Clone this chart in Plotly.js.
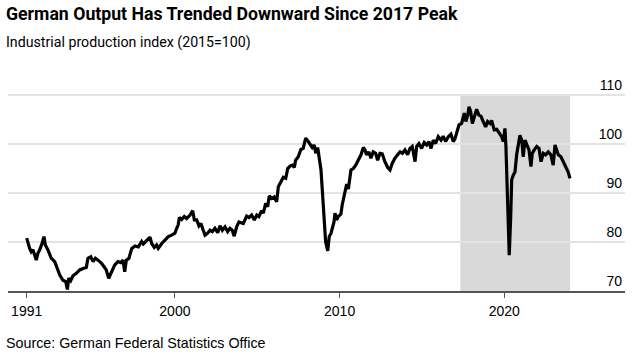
<!DOCTYPE html>
<html>
<head>
<meta charset="utf-8">
<script src="https://cdn.plot.ly/plotly-3.0.1.min.js"></script>
<style>html,body{margin:0;padding:0;background:#fff;}#chart{width:637px;height:357px;}</style>
</head>
<body>
<div id="chart"></div>
<script>
// Decimal years and index values (2015=100)
const years = [
1991.0,1991.1,1991.18,1991.28,1991.38,1991.49,1991.58,1991.69,1991.79,1991.93,
1992.05,1992.13,1992.29,1992.49,1992.70,1992.86,1993.00,1993.20,1993.37,1993.47,
1993.55,1993.67,1993.81,1994.01,1994.22,1994.42,1994.62,1994.72,1994.89,1995.03,
1995.17,1995.33,1995.53,1995.69,1995.83,1995.98,1996.14,1996.34,1996.54,1996.71,
1996.85,1996.95,1997.05,1997.21,1997.38,1997.58,1997.78,1997.98,1998.08,1998.29,
1998.49,1998.59,1998.75,1998.89,1998.99,1999.20,1999.40,1999.60,1999.80,2000.00,
2000.11,2000.20,2000.27,2000.41,2000.57,2000.71,2000.92,2001.08,2001.18,2001.32,
2001.46,2001.58,2001.72,2001.83,2001.99,2002.13,2002.27,2002.43,2002.60,2002.74,
2002.88,2003.04,2003.20,2003.34,2003.48,2003.60,2003.75,2003.89,2004.15,2004.36,
2004.50,2004.66,2004.82,2004.97,2005.10,2005.27,2005.37,2005.51,2005.63,2005.73,
2005.88,2006.03,2006.18,2006.28,2006.44,2006.58,2006.73,2006.85,2006.99,2007.13,
2007.25,2007.33,2007.49,2007.65,2007.79,2007.94,2008.06,2008.20,2008.34,2008.46,
2008.55,2008.67,2008.75,2008.87,2008.95,2009.01,2009.07,2009.15,2009.28,2009.37,
2009.48,2009.56,2009.66,2009.72,2009.82,2009.92,2010.08,2010.16,2010.28,2010.43,
2010.53,2010.69,2010.83,2010.98,2011.13,2011.30,2011.44,2011.54,2011.64,2011.78,
2011.90,2012.04,2012.19,2012.31,2012.45,2012.59,2012.75,2012.92,2013.06,2013.20,
2013.36,2013.53,2013.67,2013.81,2013.97,2014.13,2014.27,2014.41,2014.58,2014.68,
2014.82,2014.98,2015.14,2015.29,2015.43,2015.55,2015.69,2015.83,2015.99,2016.16,
2016.29,2016.44,2016.60,2016.76,2016.90,2017.00,2017.11,2017.25,2017.41,2017.57,
2017.67,2017.78,2017.86,2017.96,2018.06,2018.18,2018.32,2018.46,2018.58,2018.72,
2018.87,2018.99,2019.13,2019.23,2019.39,2019.54,2019.68,2019.84,2019.94,2020.04,
2020.10,2020.18,2020.24,2020.30,2020.39,2020.45,2020.55,2020.65,2020.75,2020.85,
2020.95,2021.06,2021.15,2021.26,2021.36,2021.50,2021.62,2021.70,2021.82,2021.97,
2022.11,2022.23,2022.37,2022.51,2022.67,2022.83,2022.97,2023.08,2023.18,2023.28,
2023.44,2023.58,2023.73,2023.88,2023.99
];
const production = [
80.8,79.4,78.7,78.0,78.4,77.3,76.3,77.8,78.4,79.7,
81.1,79.4,78.4,76.7,76.0,74.6,73.3,72.2,71.9,70.3,
72.6,72.1,73.1,73.6,74.3,74.6,74.8,76.7,77.0,76.0,
76.7,76.3,75.7,75.0,74.3,72.6,73.9,75.3,76.0,75.8,
76.3,73.9,76.3,76.7,78.7,79.2,79.0,80.1,79.6,80.4,
81.0,79.7,78.9,79.4,78.7,79.7,80.4,81.1,81.4,81.8,
82.8,83.5,85.0,84.6,85.2,84.8,85.5,86.4,84.5,84.5,
83.3,83.8,82.4,81.4,81.8,82.4,82.1,82.8,81.9,83.3,
82.4,83.1,82.1,82.8,82.4,81.2,83.1,84.1,83.8,85.3,
85.0,85.5,84.5,85.5,85.2,86.4,85.9,87.9,87.2,89.4,
88.9,89.2,88.2,91.3,92.3,93.2,93.0,95.0,95.5,95.7,
95.2,96.7,97.4,98.9,99.1,101.2,100.7,100.1,99.3,99.8,
98.1,99.3,97.8,94.7,90.6,86.5,82.4,80.1,78.2,81.1,
81.8,82.8,84.1,85.9,84.5,85.2,85.7,87.6,89.4,91.8,
90.8,94.7,95.0,95.7,96.7,97.8,99.3,98.8,97.8,98.4,
97.1,98.4,98.1,96.7,98.1,98.0,96.4,95.2,94.7,96.1,
97.1,97.8,98.4,98.1,98.8,97.8,99.1,99.5,96.4,99.5,
100.1,99.1,100.3,99.8,100.5,99.1,100.8,100.1,101.5,100.8,
101.6,100.5,101.5,102.0,100.5,101.0,102.2,103.9,104.2,106.3,
104.6,105.9,107.6,106.6,104.2,105.6,107.1,105.9,105.7,104.6,
103.5,104.6,104.2,104.8,102.9,103.0,102.2,101.5,100.5,103.2,
99.5,90.6,82.4,77.3,85.2,92.7,93.7,94.3,97.8,100.1,
101.8,100.8,97.4,100.8,99.8,98.8,95.4,98.1,98.8,99.5,
99.1,96.4,98.1,97.8,98.4,97.8,95.7,99.8,98.8,97.8,
97.4,96.4,95.0,94.3,93.0
];
const xTickVals = [1991, 2000, 2010, 2020];
const xTickText = ["1991", "2000", "2010", "2020"];
const yTickVals = [70, 80, 90, 100, 110];
const yTickText = ["70", "80", "90", "100", "110"];
const shadeStart = 2017.33;
const shadeEnd = 2024.0;

const trace = {
  x: years, y: production, type: 'scatter', mode: 'lines',
  line: {color: '#000000', width: 3.2}, hoverinfo: 'skip'
};

const layout = {
  width: 637, height: 357,
  margin: {l: 8, r: 12, t: 73, b: 66},
  paper_bgcolor: '#ffffff', plot_bgcolor: '#ffffff',
  showlegend: false,
  font: {family: 'Liberation Sans, Arial, sans-serif', color: '#000000'},
  title: {
    text: '<b>German Output Has Trended Downward Since 2017 Peak</b>',
    font: {family: 'Roboto, Liberation Sans, sans-serif', size: 17.7, color: '#000000'},
    xref: 'container', x: 6/637, xanchor: 'left',
    yref: 'container', y: 1 - 14/357, yanchor: 'middle'
  },
  xaxis: {
    range: [1989.865, 2027.33], fixedrange: true,
    tickmode: 'array', tickvals: xTickVals, ticktext: xTickText,
    ticks: 'outside', ticklen: 5, tickwidth: 1, tickcolor: '#555555',
    ticklabelstandoff: 2,
    showgrid: false, zeroline: false,
    showline: true, linecolor: '#555555', linewidth: 1.5,
    tickfont: {size: 14, color: '#000000'}
  },
  yaxis: {
    range: [70, 114.5], fixedrange: true, side: 'right',
    tickmode: 'array', tickvals: yTickVals, ticktext: yTickText,
    ticklabelposition: 'inside top',
    ticks: '', showgrid: true, gridcolor: '#e3e3e3', gridwidth: 1.5,
    zeroline: false, showline: false,
    tickfont: {size: 14, color: '#000000'}
  },
  shapes: [{
    type: 'rect', xref: 'x', yref: 'y', layer: 'below',
    x0: shadeStart, x1: shadeEnd, y0: 70, y1: 110,
    fillcolor: 'rgba(0,0,0,0.15)', line: {width: 0}
  }],
  annotations: [
    {text: 'Industrial production index (2015=100)', xref: 'paper', yref: 'paper',
     x: -4/617, y: 1 + (73 - 42)/218, xanchor: 'left', yanchor: 'middle', showarrow: false,
     font: {family: 'Roboto, Liberation Sans, sans-serif', size: 14.2, color: '#000000'}},
    {text: 'Source: German Federal Statistics Office', xref: 'paper', yref: 'paper',
     x: -4/617, y: -(343 - 291)/218, xanchor: 'left', yanchor: 'middle', showarrow: false,
     font: {family: 'Liberation Sans, Arial, sans-serif', size: 14.3, color: '#000000'}}
  ]
};

Plotly.newPlot('chart', [trace], layout, {displayModeBar: false, staticPlot: true});
</script>
</body>
</html>
